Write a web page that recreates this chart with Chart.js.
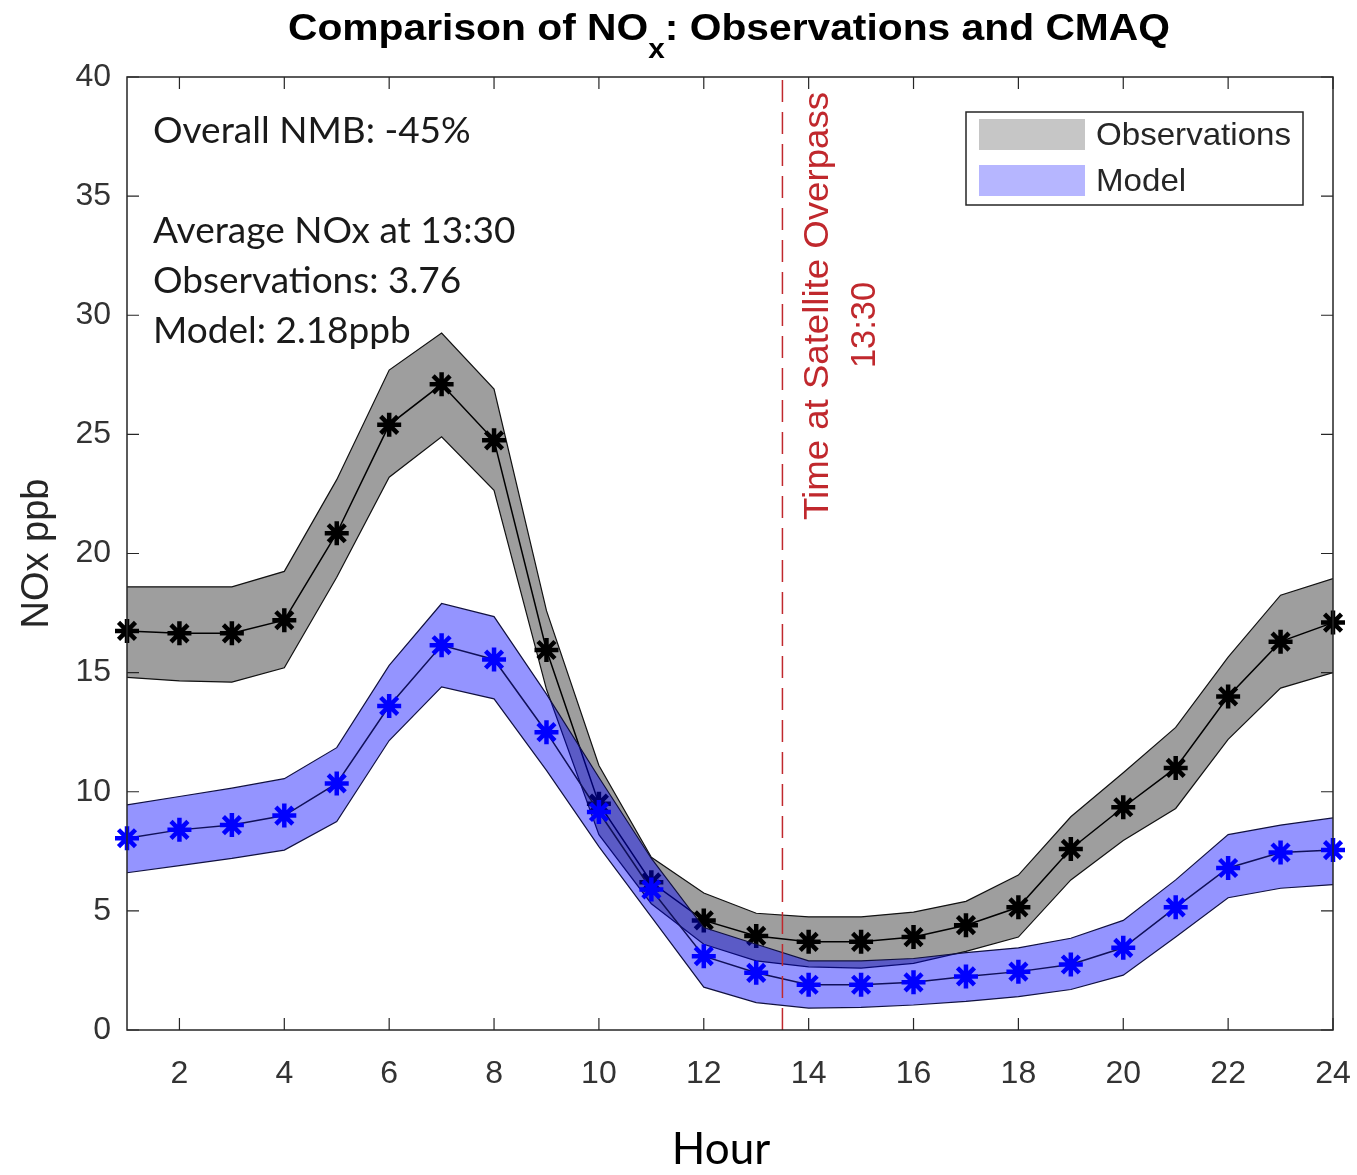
<!DOCTYPE html>
<html><head><meta charset="utf-8">
<script src="https://cdn.jsdelivr.net/npm/chart.js@4.4.1/dist/chart.umd.min.js"></script>
<style>html,body{margin:0;padding:0;background:#fff}canvas{display:block}</style>
</head><body>
<canvas id="c" width="1357" height="1175"></canvas>
<script>
// ---------- data ----------
const hours = [1,2,3,4,5,6,7,8,9,10,11,12,13,14,15,16,17,18,19,20,21,22,23,24];
const obsMean  = [16.75,16.65,16.65,17.2,20.85,25.4,27.1,24.75,15.95,9.5,6.2,4.6,3.95,3.7,3.7,3.9,4.4,5.15,7.6,9.35,11.0,14.0,16.3,17.1];
const obsUpper = [18.6,18.6,18.6,19.25,23.1,27.7,29.25,26.9,17.6,11.1,7.25,5.75,4.9,4.75,4.75,4.95,5.4,6.5,8.95,10.8,12.7,15.65,18.25,18.95];
const obsLower = [14.8,14.65,14.6,15.2,19.0,23.2,24.9,22.65,14.3,8.2,5.3,3.6,2.9,2.65,2.6,2.8,3.3,3.9,6.3,7.95,9.3,12.2,14.35,15.0];
const modMean  = [8.05,8.4,8.6,9.0,10.35,13.6,16.15,15.55,12.5,9.15,5.9,3.1,2.4,1.9,1.9,2.0,2.25,2.45,2.75,3.45,5.15,6.8,7.45,7.55];
const modUpper = [9.45,9.8,10.15,10.55,11.85,15.3,17.9,17.35,14.1,10.6,7.2,4.3,3.6,2.9,2.9,3.0,3.25,3.45,3.85,4.6,6.3,8.2,8.6,8.9];
const modLower = [6.6,6.9,7.2,7.55,8.75,12.15,14.4,13.9,10.9,7.7,4.75,1.8,1.15,0.92,0.95,1.05,1.2,1.4,1.7,2.3,3.9,5.55,5.95,6.1];
const xTickValues = [2,4,6,8,10,12,14,16,18,20,22,24];
const yTickValues = [0,5,10,15,20,25,30,35,40];
const overpassHour = 13.5;
const overpassLabel = ['Time at Satellite Overpass', '13:30'];
const noteLines = ['Overall NMB: -45%', '', 'Average NOx at 13:30', 'Observations: 3.76', 'Model: 2.18ppb'];
const legendLabels = ['Observations', 'Model'];
const titleParts = ['Comparison of NO', 'x', ': Observations and CMAQ'];
const xAxisTitle = 'Hour';

const pts = arr => hours.map((h, i) => ({x: h, y: arr[i]}));

function fitText(c, text, cx, cy, len, rot) {
  const w = c.measureText(text).width;
  c.save(); c.translate(cx, cy); if (rot) c.rotate(rot);
  c.scale(len / w, 1); c.fillText(text, 0, 0); c.restore();
}

const decor = {
  id: 'decor',
  beforeDraw(chart) {
    const c = chart.ctx;
    c.save(); c.fillStyle = '#fff'; c.fillRect(0, 0, chart.width, chart.height); c.restore();
  },
  afterDraw(chart) {
    const c = chart.ctx, a = chart.chartArea;
    const xs = chart.scales.x, ys = chart.scales.y;
    c.save();
    // box
    c.strokeStyle = '#262626'; c.lineWidth = 1.5;
    c.strokeRect(a.left, a.top, a.right - a.left, a.bottom - a.top);
    // inward ticks
    c.lineWidth = 1.2;
    c.beginPath();
    xTickValues.forEach(v => {
      const px = xs.getPixelForValue(v);
      c.moveTo(px, a.bottom); c.lineTo(px, a.bottom - 12);
      c.moveTo(px, a.top); c.lineTo(px, a.top + 12);
    });
    yTickValues.forEach(v => {
      const py = ys.getPixelForValue(v);
      c.moveTo(a.left, py); c.lineTo(a.left + 12, py);
      c.moveTo(a.right, py); c.lineTo(a.right - 12, py);
    });
    c.stroke();

    // title with subscript, fit to width
    c.fillStyle = '#000';
    const f1 = 'bold 37px "Liberation Sans", Arial, sans-serif';
    const f2 = 'bold 27px "Liberation Sans", Arial, sans-serif';
    c.font = f1; const w1 = c.measureText(titleParts[0]).width, w3 = c.measureText(titleParts[2]).width;
    c.font = f2; const w2 = c.measureText(titleParts[1]).width;
    const total = w1 + w2 + w3;
    const tLeft = 288, tRight = 1170;
    const sx = (tRight - tLeft) / total;
    c.save();
    c.translate(tLeft, 0); c.scale(sx, 1);
    c.textBaseline = 'alphabetic'; c.textAlign = 'left';
    c.font = f1; c.fillText(titleParts[0], 0, 40);
    c.font = f2; c.fillText(titleParts[1], w1, 58);
    c.font = f1; c.fillText(titleParts[2], w1 + w2, 40);
    c.restore();

    // x axis title
    c.font = '44px Lato, "Open Sans", sans-serif';
    c.fillStyle = '#000'; c.textAlign = 'center'; c.textBaseline = 'middle';
    c.fillText(xAxisTitle, 721, 1150);

    // notes
    c.font = '37px Lato, "Open Sans", sans-serif';
    c.fillStyle = '#1a1a1a'; c.textBaseline = 'middle'; c.textAlign = 'left';
    noteLines.forEach((t, i) => { if (t) c.fillText(t, 153, 131 + i * 50); });

    // overpass label (rotated)
    const ox = xs.getPixelForValue(overpassHour);
    c.fillStyle = '#c0282d';
    c.font = '35px "Liberation Sans", Arial, sans-serif';
    c.textAlign = 'center'; c.textBaseline = 'middle';
    fitText(c, overpassLabel[0], ox + 36, 306, 428, -Math.PI / 2);
    fitText(c, overpassLabel[1], ox + 83, 325, 86, -Math.PI / 2);

    // legend
    c.fillStyle = '#fff'; c.fillRect(966, 112, 337, 93);
    c.strokeStyle = '#262626'; c.lineWidth = 1.5; c.strokeRect(966, 112, 337, 93);
    c.fillStyle = '#c6c6c6'; c.fillRect(979, 119, 106, 31);
    c.fillStyle = '#b6b6ff'; c.fillRect(979, 165, 106, 31);
    c.fillStyle = '#262626'; c.textAlign = 'left'; c.textBaseline = 'middle';
    c.font = '32px "Liberation Sans", Arial, sans-serif';
    c.save(); c.translate(1096, 136); c.scale(195 / c.measureText(legendLabels[0]).width, 1); c.fillText(legendLabels[0], 0, 0);
    c.fillText(legendLabels[1], 0, 46); c.restore();
    c.restore();
  }
};

new Chart(document.getElementById('c'), {
  type: 'line',
  data: {
    datasets: [
      {label: 'obsUpper', data: pts(obsUpper), borderColor: '#111', borderWidth: 1.2, pointRadius: 0,
       fill: '+1', backgroundColor: 'rgba(0,0,0,0.38)', order: 7},
      {label: 'obsLower', data: pts(obsLower), borderColor: '#111', borderWidth: 1.2, pointRadius: 0, fill: false, order: 6},
      {label: 'Observations', data: pts(obsMean), borderColor: '#000', borderWidth: 1.5, fill: false,
       pointStyle: 'star', pointRadius: 12, pointBorderWidth: 4.5, pointBorderColor: '#000', pointBackgroundColor: '#000', clip: false, order: 5},
      {label: 'modUpper', data: pts(modUpper), borderColor: '#101040', borderWidth: 1.2, pointRadius: 0,
       fill: '+1', backgroundColor: 'rgba(0,0,255,0.42)', order: 4},
      {label: 'modLower', data: pts(modLower), borderColor: '#101040', borderWidth: 1.2, pointRadius: 0, fill: false, order: 3},
      {label: 'Model', data: pts(modMean), borderColor: '#10105a', borderWidth: 1.5, fill: false,
       pointStyle: 'star', pointRadius: 12, pointBorderWidth: 4.5, pointBorderColor: '#0000ff', pointBackgroundColor: '#0000ff', clip: false, order: 2},
      {label: 'overpass', data: [{x: overpassHour, y: 0}, {x: overpassHour, y: 40}], borderColor: '#c0282d',
       borderWidth: 1.5, borderDash: [22, 10], pointRadius: 0, fill: false, order: 1}
    ]
  },
  options: {
    responsive: false, animation: false,
    layout: {padding: {left: 0, right: 24, top: 77, bottom: 0}},
    plugins: {legend: {display: false}, tooltip: {enabled: false}, title: {display: false}},
    scales: {
      x: {
        type: 'linear', min: 1, max: 24,
        afterBuildTicks: s => { s.ticks = xTickValues.map(v => ({value: v})); },
        afterFit: s => { s.height = 145; s.paddingLeft = 0; s.paddingRight = 0; },
        grid: {display: false, drawTicks: false}, border: {display: false},
        ticks: {font: {family: '"Liberation Sans", Arial, sans-serif', size: 32}, color: '#333', padding: 25, maxRotation: 0, autoSkip: false},
        title: {display: false}
      },
      y: {
        min: 0, max: 40,
        afterBuildTicks: s => { s.ticks = yTickValues.map(v => ({value: v})); },
        afterFit: s => { s.width = 127; s.paddingTop = 0; s.paddingBottom = 0; },
        grid: {display: false, drawTicks: false}, border: {display: false},
        ticks: {font: {family: '"Liberation Sans", Arial, sans-serif', size: 32}, color: '#333', padding: 16},
        title: {display: true, text: 'NOx ppb', font: {family: '"Liberation Sans", Arial, sans-serif', size: 38}, color: '#262626', padding: {top: 15, bottom: 0}}
      }
    }
  },
  plugins: [decor]
});
</script>
</body></html>
